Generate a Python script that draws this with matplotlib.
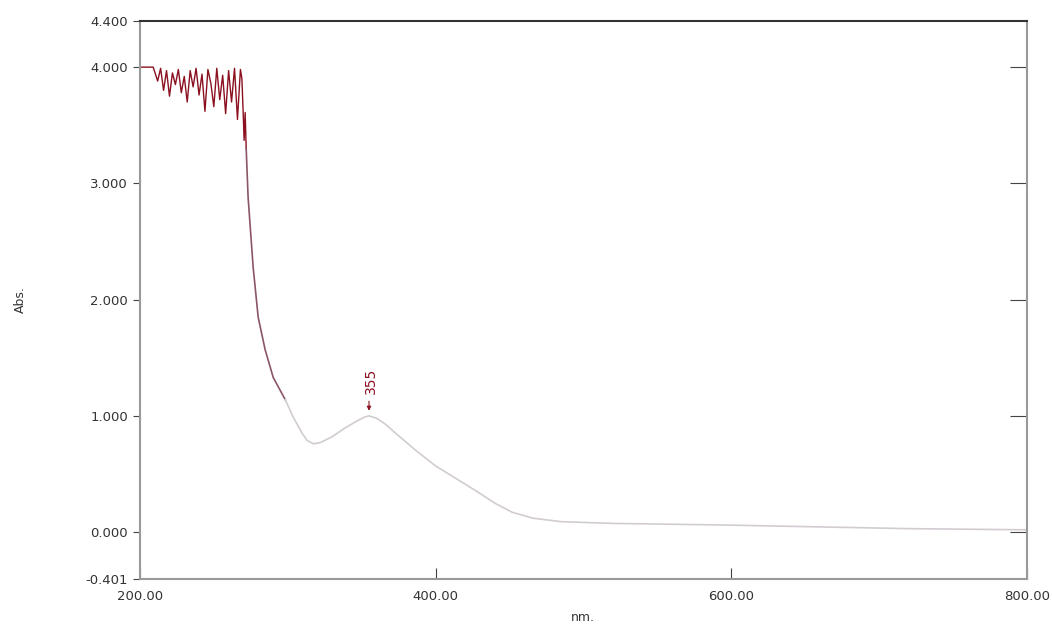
import matplotlib
matplotlib.use('Agg')
import matplotlib.pyplot as plt

# noisy saturated region (dark red)
wl_noise = [200, 209, 210, 212, 214, 216, 218, 220, 222, 224, 226, 228, 230, 232, 234,
            236, 238, 240, 242, 244, 246, 248, 250, 252, 254, 256, 258, 260,
            262, 264, 266, 268, 269, 269.8, 270.5, 271.2, 271.9]
abs_noise = [4.00, 4.00, 3.96, 3.88, 3.99, 3.80, 3.97, 3.75, 3.95, 3.85, 3.98, 3.78, 3.92, 3.70, 3.97,
             3.83, 3.99, 3.76, 3.94, 3.62, 3.98, 3.86, 3.66, 3.99, 3.72, 3.93, 3.60, 3.97,
             3.70, 3.99, 3.55, 3.98, 3.90, 3.63, 3.37, 3.61, 3.30]

# steep descent (reddish grey)
wl_drop = [271.9, 273.2, 276.6, 280.0, 284.7, 290.2, 298.3]
abs_drop = [3.30, 2.88, 2.28, 1.85, 1.57, 1.33, 1.14]

# rest of the spectrum (light grey)
wl_tail = [298.3, 303.7, 309.8, 313, 317.3, 322, 330, 338, 346, 352, 355, 360, 366,
           374, 386, 400, 414, 428, 440, 452, 466, 485, 520, 560, 600, 660, 720, 800]
abs_tail = [1.14, 0.99, 0.85, 0.79, 0.76, 0.77, 0.82, 0.89, 0.95, 0.99, 1.00, 0.98, 0.93,
            0.84, 0.71, 0.57, 0.46, 0.35, 0.25, 0.17, 0.12, 0.09, 0.075, 0.068, 0.06, 0.045, 0.03, 0.02]

peak_wl = 355
peak_abs = 1.00

yticks = [-0.401, 0.0, 1.0, 2.0, 3.0, 4.0, 4.4]
ytick_labels = ['-0.401', '0.000', '1.000', '2.000', '3.000', '4.000', '4.400']
xticks = [200, 400, 600, 800]
xtick_labels = ['200.00', '400.00', '600.00', '800.00']

fig = plt.figure(figsize=(10.52, 6.25), dpi=100)
ax = fig.add_axes([0.133, 0.074, 0.843, 0.893])

ax.plot(wl_noise, abs_noise, color='#8b1020', lw=1.0)
ax.plot(wl_drop, abs_drop, color='#8a5664', lw=1.2)
ax.plot(wl_tail, abs_tail, color='#d2ccd2', lw=1.2)

# peak marker
ax.annotate('', xy=(peak_wl, peak_abs + 0.02), xytext=(peak_wl, peak_abs + 0.15),
            arrowprops=dict(arrowstyle='-|>', color='#8b1020', lw=0.8, mutation_scale=6))
ax.text(peak_wl + 1, peak_abs + 0.19, str(peak_wl), rotation=90, color='#8b1020',
        fontsize=10, ha='center', va='bottom')

ax.set_xlim(200, 800)
ax.set_ylim(-0.401, 4.4)
ax.set_yticks(yticks)
ax.set_yticklabels(ytick_labels)
ax.set_xticks(xticks)
ax.set_xticklabels(xtick_labels)
ax.tick_params(axis='y', direction='out', length=5, color='#444444', labelsize=9.5,
               labelcolor='#333333')
ax.tick_params(axis='x', direction='in', length=8, color='#444444', labelsize=9.5,
               labelcolor='#333333', pad=8)

# inward ticks on the right frame
sec = ax.secondary_yaxis('right')
sec.set_yticks(yticks[1:-1])
sec.tick_params(direction='in', length=12, color='#444444', labelright=False)
sec.spines['right'].set_visible(False)

for side in ['left', 'right', 'bottom']:
    ax.spines[side].set_color('#999999')
    ax.spines[side].set_linewidth(1.5)
ax.spines['top'].set_color('#333333')
ax.spines['top'].set_linewidth(1.5)

ax.set_xlabel('nm.', fontsize=9, color='#333333', labelpad=6)
fig.text(0.013, 0.52, 'Abs.', rotation=90, fontsize=9, color='#333333', va='center')

fig.savefig('out.png', dpi=100)
